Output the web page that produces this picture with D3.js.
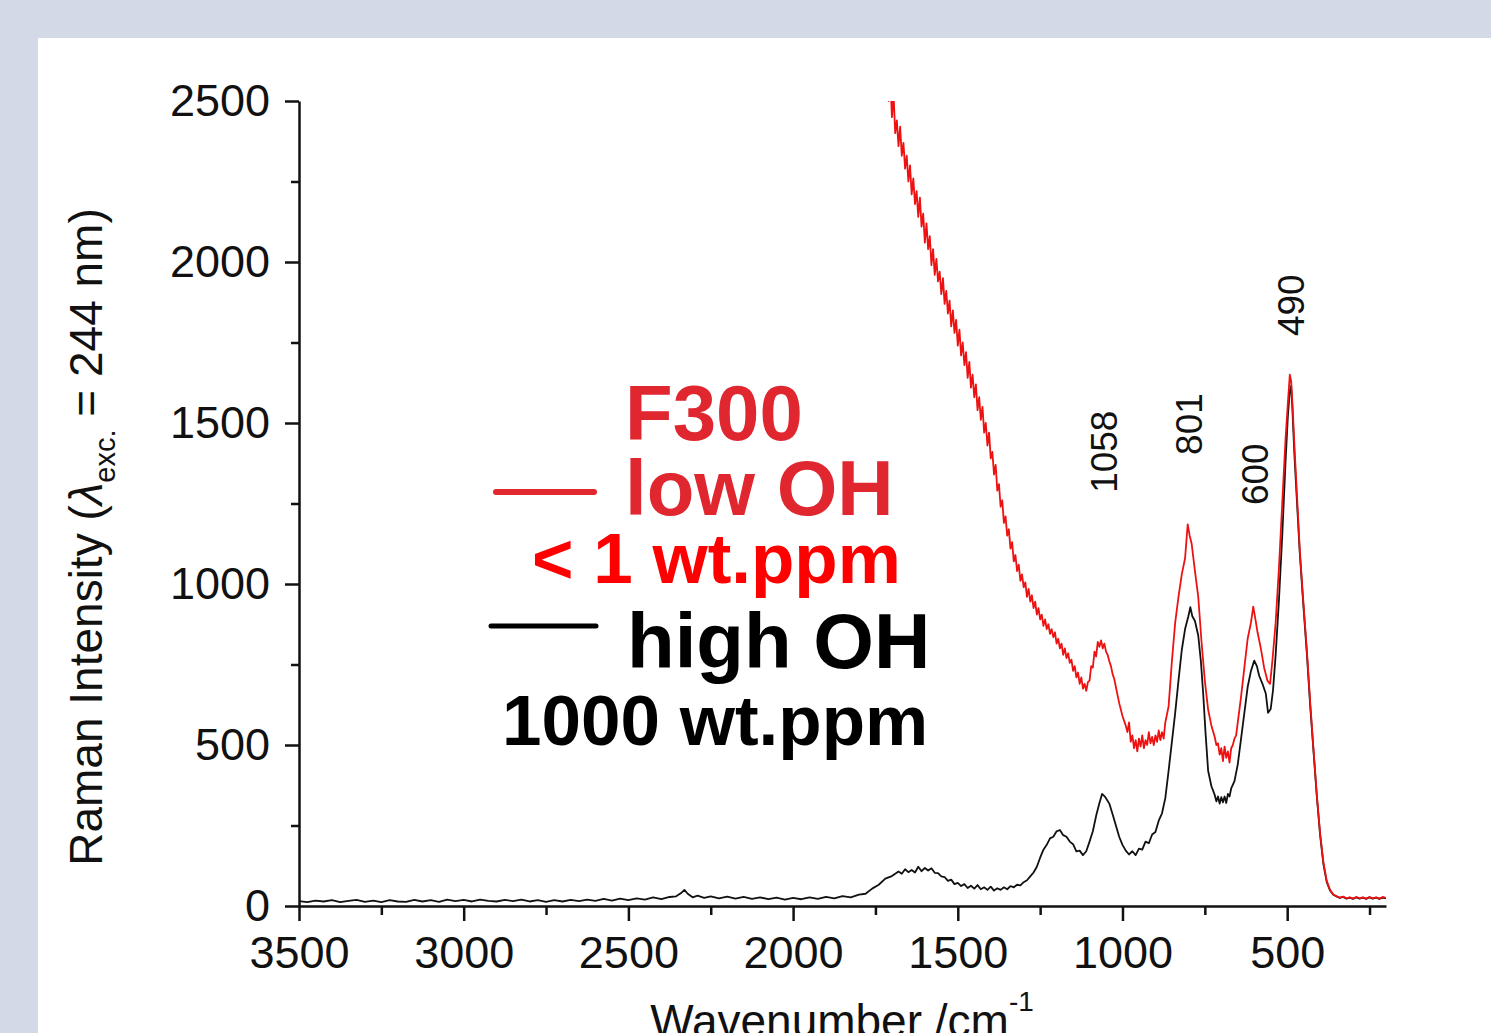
<!DOCTYPE html>
<html>
<head>
<meta charset="utf-8">
<script src="https://cdn.jsdelivr.net/npm/d3@7"></script>
<style>
  html, body { margin: 0; padding: 0; background: #d3d9e6; }
  svg { display: block; }
  text { font-family: "Liberation Sans", Arial, sans-serif; }
</style>
</head>
<body>
<svg id="chart" width="1491" height="1033"></svg>
<script>
// wavenumber (cm-1), intensity — high OH sample (black)
const highOH = [
  [3500,15],[3475,12],[3450,17],[3425,14],[3400,18],[3375,12],[3350,16],[3325,19],[3300,13],[3275,17],
  [3250,12],[3225,18],[3200,14],[3175,13],[3150,19],[3125,14],[3100,18],[3075,13],[3050,20],[3025,15],
  [3000,19],[2975,14],[2950,20],[2925,16],[2900,14],[2875,19],[2850,15],[2825,20],[2800,14],[2775,18],
  [2750,13],[2725,18],[2700,14],[2675,19],[2650,15],[2625,20],[2600,16],[2575,22],[2550,17],[2525,23],
  [2500,18],[2475,24],[2450,20],[2425,27],[2400,21],[2375,28],[2355,30],[2340,40],[2330,50],[2320,38],
  [2305,27],[2290,32],[2270,25],[2250,30],[2225,24],[2200,29],[2175,23],[2150,28],[2125,22],[2100,27],
  [2075,21],[2050,26],[2025,20],[2000,25],[1975,21],[1950,27],[1925,22],[1900,28],[1875,24],[1850,31],
  [1825,27],[1800,35],[1780,38],[1760,54],[1740,66],[1720,85],[1700,93],[1680,107],[1670,100],[1660,114],
  [1650,105],[1640,112],[1630,104],[1620,122],[1610,108],[1600,118],[1590,110],[1580,117],[1570,103],[1560,102],
  [1550,92],[1540,90],[1530,78],[1520,82],[1510,68],[1500,72],[1490,62],[1480,68],[1470,56],[1460,63],
  [1450,54],[1440,65],[1430,52],[1420,58],[1410,50],[1400,60],[1390,48],[1380,55],[1370,50],[1360,58],
  [1350,52],[1340,62],[1330,58],[1320,66],[1310,64],[1300,74],[1290,80],[1280,92],[1270,104],[1260,122],
  [1250,150],[1240,175],[1230,190],[1220,210],[1210,215],[1200,232],[1190,236],[1180,220],[1170,215],[1160,200],
  [1150,192],[1140,170],[1130,172],[1120,158],[1110,170],[1100,200],[1090,232],[1080,280],[1070,320],[1062,348],
  [1052,338],[1040,318],[1030,285],[1020,250],[1010,215],[1000,190],[990,172],[980,160],[970,170],[960,158],
  [950,178],[940,175],[930,200],[920,195],[910,222],[900,230],[890,265],[880,288],[870,335],[860,420],
  [850,510],[840,600],[830,700],[820,795],[810,860],[800,900],[794,928],[788,900],[780,885],[770,840],
  [762,760],[755,660],[748,540],[740,420],[730,372],[720,345],[715,325],[710,340],[705,318],[700,338],
  [695,322],[690,340],[685,320],[680,348],[675,340],[670,365],[660,388],[650,440],[640,520],[630,600],
  [620,680],[610,730],[600,762],[592,745],[585,715],[575,690],[565,660],[558,600],[550,612],[543,670],
  [535,780],[525,950],[515,1150],[505,1380],[498,1520],[492,1600],[488,1615],[484,1540],[478,1400],[470,1250],
  [462,1100],[452,950],[440,780],[430,620],[420,480],[410,340],[400,220],[390,130],[380,75],[370,48],
  [360,35],[350,30],[340,25],[330,28],[320,23],[310,26],[300,22],[290,27],[280,23],[270,26],
  [260,22],[250,27],[240,23],[230,26],[220,22],[210,26],[200,24]
];

// F300 low OH sample (red)
const lowOH = [
  [1715,2560],[1710,2500],[1705,2580],[1700,2450],[1695,2520],[1690,2400],[1685,2440],[1680,2360],[1675,2420],[1670,2330],
  [1665,2370],[1660,2290],[1655,2330],[1650,2250],[1645,2300],[1640,2210],[1635,2260],[1630,2180],[1625,2220],[1620,2140],
  [1615,2200],[1610,2110],[1605,2150],[1600,2060],[1595,2120],[1590,2040],[1585,2080],[1580,1990],[1575,2040],[1570,1960],
  [1565,2010],[1560,1940],[1555,1970],[1550,1900],[1545,1950],[1540,1870],[1535,1910],[1530,1840],[1525,1880],[1520,1800],
  [1515,1850],[1510,1780],[1505,1820],[1500,1740],[1495,1790],[1490,1710],[1485,1750],[1480,1680],[1475,1720],[1470,1640],
  [1465,1690],[1460,1610],[1455,1650],[1450,1580],[1445,1620],[1440,1540],[1435,1580],[1430,1510],[1425,1550],[1420,1470],
  [1415,1500],[1410,1430],[1405,1470],[1400,1390],[1395,1410],[1390,1340],[1385,1370],[1380,1290],[1375,1310],[1370,1240],
  [1365,1260],[1360,1190],[1355,1210],[1350,1150],[1345,1170],[1340,1110],[1335,1130],[1330,1070],[1325,1090],[1320,1040],
  [1315,1060],[1310,1010],[1305,1030],[1300,990],[1295,1005],[1290,960],[1285,985],[1280,945],[1275,965],[1270,925],
  [1265,945],[1260,905],[1255,925],[1250,890],[1245,905],[1240,870],[1235,890],[1230,860],[1225,875],[1220,845],
  [1215,860],[1210,835],[1205,850],[1200,815],[1195,830],[1190,800],[1185,815],[1180,780],[1175,800],[1170,770],
  [1165,785],[1160,755],[1155,765],[1150,730],[1145,745],[1140,710],[1135,725],[1130,690],[1125,710],[1120,675],
  [1115,690],[1110,668],[1105,695],[1100,700],[1095,745],[1090,740],[1085,790],[1080,775],[1075,820],[1070,805],
  [1065,825],[1060,800],[1055,815],[1050,790],[1045,780],[1040,760],[1035,745],[1030,720],[1025,705],[1020,680],
  [1015,655],[1010,630],[1005,610],[1000,590],[995,575],[990,560],[985,540],[980,570],[975,510],[970,530],
  [965,490],[960,515],[955,480],[950,520],[945,495],[940,530],[935,490],[930,515],[925,500],[920,540],
  [915,505],[910,525],[905,500],[900,530],[895,510],[890,545],[885,515],[880,540],[875,520],[870,570],
  [860,620],[850,760],[840,880],[830,960],[820,1030],[810,1080],[802,1185],[796,1150],[790,1125],[780,1040],
  [770,960],[760,820],[750,700],[740,610],[730,560],[720,525],[715,500],[710,505],[705,470],[700,490],
  [695,450],[690,495],[685,460],[680,480],[675,445],[670,490],[665,500],[660,520],[655,530],[650,570],
  [640,650],[630,740],[620,830],[610,880],[603,930],[598,900],[590,850],[580,800],[570,740],[560,700],
  [552,690],[545,760],[535,880],[525,1050],[515,1250],[505,1450],[498,1560],[492,1650],[488,1630],[484,1560],
  [478,1430],[470,1270],[462,1110],[452,960],[440,790],[430,630],[420,485],[410,345],[400,225],[390,135],
  [380,78],[370,50],[360,36],[350,30],[340,26],[330,29],[320,24],[310,27],[300,23],[290,28],
  [280,24],[270,27],[260,23],[250,28],[240,24],[230,27],[220,23],[210,28],[200,25]
];

const xMajor = [3500, 3000, 2500, 2000, 1500, 1000, 500];
const xMinor = [3250, 2750, 2250, 1750, 1250, 750, 250];
const yMajor = [0, 500, 1000, 1500, 2000, 2500];
const yMinor = [250, 750, 1250, 1750, 2250];

// peak labels: wavenumber, intensity where the label starts
const peakLabels = [
  { text: '1058', w: 1058, v: 1283 },
  { text: '801', w: 801, v: 1401 },
  { text: '600', w: 600, v: 1245 },
  { text: '490', w: 490, v: 1770 }
];

const svg = d3.select('#chart');

svg.append('rect').attr('x', 0).attr('y', 0).attr('width', 1491).attr('height', 1033).attr('fill', '#d3d9e6');
svg.append('rect').attr('x', 38).attr('y', 38).attr('width', 1453).attr('height', 995).attr('fill', '#ffffff');

const x = d3.scaleLinear().domain([3500, 200]).range([299, 1386]);
const y = d3.scaleLinear().domain([0, 2500]).range([906, 101]);

svg.append('defs').append('clipPath').attr('id', 'plot-clip')
  .append('rect').attr('x', 299).attr('y', 101).attr('width', 1087).attr('height', 805);

const line = d3.line().x(d => x(d[0])).y(d => y(d[1]));

const plot = svg.append('g').attr('clip-path', 'url(#plot-clip)');
plot.append('path').attr('d', line(highOH))
  .attr('fill', 'none').attr('stroke', '#111').attr('stroke-width', 1.8).attr('stroke-linejoin', 'round');
plot.append('path').attr('d', line(lowOH))
  .attr('fill', 'none').attr('stroke', '#ee1111').attr('stroke-width', 1.8).attr('stroke-linejoin', 'round');

// axes
const tickFont = g => g.selectAll('text').attr('font-size', 45).attr('fill', '#111')
  .style('font-family', '"Liberation Sans", Arial, sans-serif');

svg.append('g').attr('transform', 'translate(0,906)')
  .call(d3.axisBottom(x).tickValues(xMinor).tickSize(9).tickSizeOuter(0).tickFormat(''))
  .call(g => g.select('.domain').remove())
  .call(g => g.selectAll('line').attr('stroke', '#111').attr('stroke-width', 2.5));
svg.append('g').attr('transform', 'translate(0,906)')
  .call(d3.axisBottom(x).tickValues(xMajor).tickSize(15).tickSizeOuter(0).tickPadding(15).tickFormat(d3.format('d')))
  .call(g => g.select('.domain').attr('stroke', '#111').attr('stroke-width', 2.5))
  .call(g => g.selectAll('line').attr('stroke', '#111').attr('stroke-width', 2.5))
  .call(tickFont);

svg.append('g').attr('transform', 'translate(299,0)')
  .call(d3.axisLeft(y).tickValues(yMinor).tickSize(8).tickSizeOuter(0).tickFormat(''))
  .call(g => g.select('.domain').remove())
  .call(g => g.selectAll('line').attr('stroke', '#111').attr('stroke-width', 2.5));
svg.append('g').attr('transform', 'translate(299,0)')
  .call(d3.axisLeft(y).tickValues(yMajor).tickSize(14).tickSizeOuter(0).tickPadding(15).tickFormat(d3.format('d')))
  .call(g => g.select('.domain').attr('stroke', '#111').attr('stroke-width', 2.5))
  .call(g => g.selectAll('line').attr('stroke', '#111').attr('stroke-width', 2.5))
  .call(tickFont);

// axis titles
const xTitle = svg.append('text').attr('x', 842).attr('y', 1037)
  .attr('text-anchor', 'middle').attr('font-size', 46).attr('fill', '#111');
xTitle.append('tspan').text('Wavenumber /cm');
xTitle.append('tspan').attr('dy', -26).attr('font-size', 28).text('-1');

const yTitle = svg.append('text').attr('transform', 'translate(102,537) rotate(-90)')
  .attr('text-anchor', 'middle').attr('font-size', 46).attr('fill', '#111');
yTitle.append('tspan').text('Raman Intensity (');
yTitle.append('tspan').style('font-style', 'italic').text('λ');
yTitle.append('tspan').attr('dy', 13).attr('font-size', 29).text('exc.');
yTitle.append('tspan').attr('dy', -13).text(' = 244 nm)');

// peak labels
svg.selectAll('.peak').data(peakLabels).join('text')
  .attr('class', 'peak')
  .attr('transform', d => `translate(${x(d.w) + 14},${y(d.v)}) rotate(-90)`)
  .attr('font-size', 37).attr('fill', '#111')
  .text(d => d.text);

// legend
const legend = svg.append('g');
legend.append('line').attr('x1', 496).attr('x2', 594).attr('y1', 492).attr('y2', 492)
  .attr('stroke', '#e0282e').attr('stroke-width', 6).attr('stroke-linecap', 'round');
legend.append('line').attr('x1', 491).attr('x2', 596).attr('y1', 626).attr('y2', 626)
  .attr('stroke', '#000').attr('stroke-width', 5).attr('stroke-linecap', 'round');

const legendText = [
  { t: 'F300', x: 625, y: 440, size: 78, color: '#e0262e' },
  { t: 'low OH', x: 625, y: 515, size: 78, color: '#e0262e' },
  { t: '< 1 wt.ppm', x: 532, y: 583, size: 71, color: '#ff0000' },
  { t: 'high OH', x: 627, y: 668, size: 78, color: '#000' },
  { t: '1000 wt.ppm', x: 502, y: 745, size: 71, color: '#000' }
];
legend.selectAll('text').data(legendText).join('text')
  .attr('x', d => d.x).attr('y', d => d.y)
  .attr('font-size', d => d.size).attr('font-weight', 'bold').attr('fill', d => d.color)
  .text(d => d.t);
</script>
</body>
</html>
